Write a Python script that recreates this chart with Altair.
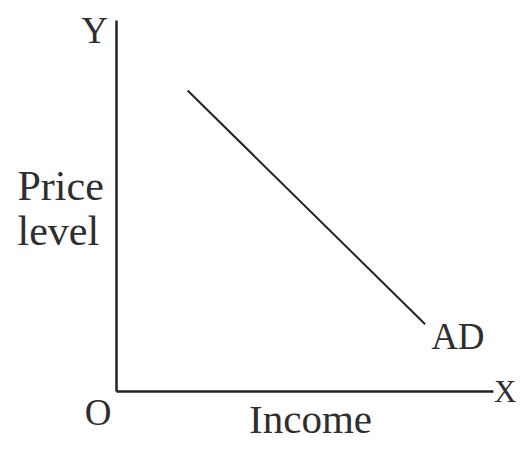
import altair as alt
import pandas as pd

# AD curve endpoints (income, price level) on a 0-100 scale
ad_income = [19, 82]
ad_price = [81, 18]

# annotation labels anchored to data points
label_text = ["Y", "X", "O", "AD"]
label_x = [0, 100, 0, 82]
label_y = [100, 0, 0, 18]

line_df = pd.DataFrame({"income": ad_income, "price": ad_price})

FONT = "Liberation Serif"
INK = "#222222"
TXT = "#2e2e2e"

xs = alt.Scale(domain=[0, 100], nice=False, zero=False)
ys = alt.Scale(domain=[0, 100], nice=False, zero=False)

x_axis = alt.Axis(
    title="Income", labels=False, ticks=False, grid=False,
    domainColor=INK, domainWidth=2.5,
    titleFont=FONT, titleFontSize=41, titleFontWeight="normal", titleColor=TXT,
    titleAnchor="start", titleAlign="center", titleX=194, titleY=41, titleBaseline="alphabetic",
)
y_axis = alt.Axis(
    title=["Price", "level"], labels=False, ticks=False, grid=False,
    domainColor=INK, domainWidth=2.5,
    titleFont=FONT, titleFontSize=42, titleFontWeight="normal", titleColor=TXT,
    titleAngle=0, titleAlign="left", titleBaseline="alphabetic",
    titleX=-99, titleY=179, titleLineHeight=45,
)

ad_line = alt.Chart(line_df).mark_line(color=INK, strokeWidth=2, clip=False).encode(
    x=alt.X("income:Q", scale=xs, axis=x_axis),
    y=alt.Y("price:Q", scale=ys, axis=y_axis),
)

def lab(i, align, dx, dy, size=37):
    df = pd.DataFrame({"t": [label_text[i]], "x": [label_x[i]], "y": [label_y[i]]})
    return alt.Chart(df).mark_text(
        font=FONT, fontSize=size, color=TXT, align=align,
        baseline="alphabetic", dx=dx, dy=dy, clip=False,
    ).encode(x=alt.X("x:Q", scale=xs), y=alt.Y("y:Q", scale=ys), text="t:N")

chart = alt.layer(
    ad_line,
    lab(0, "right", -8, 23),
    lab(1, "left", 1, 11, 31),
    lab(2, "center", -18, 34),
    lab(3, "left", 6, 25),
).properties(
    width=377, height=371,
    background="white",
    autosize=alt.AutoSizeParams(type="none"),
    padding={"left": 108, "top": 12, "right": 24, "bottom": 50},
).configure_view(strokeWidth=0, stroke="transparent")

chart.save("out.html", embed_options={"renderer": "svg", "actions": False})
